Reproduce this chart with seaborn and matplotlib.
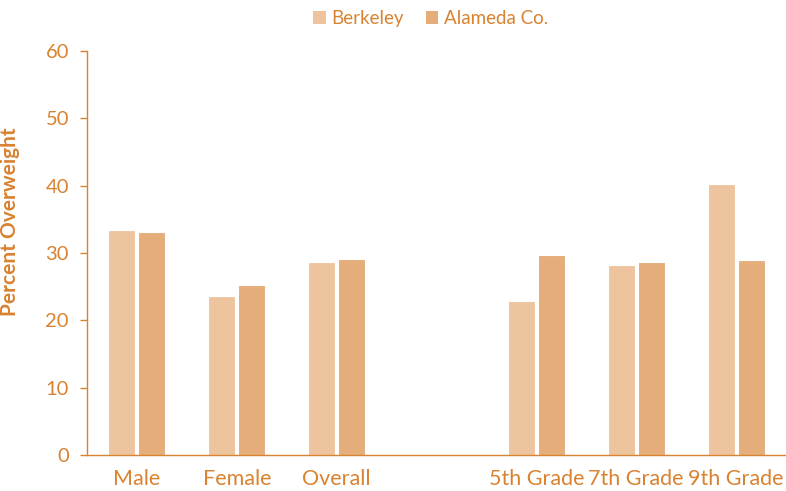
import matplotlib
matplotlib.use("Agg")
import matplotlib.pyplot as plt
import seaborn as sns
import pandas as pd
from matplotlib.patches import Patch

categories = ["Male", "Female", "Overall", "5th Grade", "7th Grade", "9th Grade"]
order = ["Male", "Female", "Overall", " ", "5th Grade", "7th Grade", "9th Grade"]
berkeley = [33.4, 23.6, 28.7, 22.9, 28.2, 40.2]
alameda = [33.1, 25.2, 29.1, 29.7, 28.6, 28.9]
series = ["Berkeley", "Alameda Co."]
yticks = [0, 10, 20, 30, 40, 50, 60]

txt = "#D98230"
colors = {"Berkeley": "#EEC49E", "Alameda Co.": "#E5AD7A"}

df = pd.DataFrame({
    "cat": categories * 2,
    "val": berkeley + alameda,
    "series": [series[0]] * len(categories) + [series[1]] * len(categories),
})

sns.set_theme(style="white")
plt.rcParams["font.family"] = ["Lato", "DejaVu Sans"]

fig = plt.figure(figsize=(7.86, 4.91), dpi=100)
ax = fig.add_axes([87 / 786, 36 / 491, 1 - 87 / 786, (455 - 51) / 491])

sns.barplot(data=df, x="cat", y="val", hue="series", order=order,
            hue_order=series, palette=colors, saturation=1, width=0.6, gap=0.1,
            edgecolor="white", linewidth=0.8, ax=ax, legend=False)

ax.set_xlim(-0.5, 6.5)
ax.set_ylim(0, 60)
ax.set_yticks(yticks)
ax.set_xlabel("")
ax.set_ylabel("Percent Overweight", color=txt, fontsize=15, fontweight="bold")
ax.yaxis.set_label_coords(-0.096, 0.577)
for s in ["top", "right"]:
    ax.spines[s].set_visible(False)
for s in ["left", "bottom"]:
    ax.spines[s].set_color(txt)
    ax.spines[s].set_linewidth(1.0)
ax.tick_params(axis="y", colors=txt, labelsize=14.5, length=5, width=1, direction="out", left=True, pad=8)
ax.tick_params(axis="x", colors=txt, labelsize=15.5, length=0, pad=10)

handles = [Patch(facecolor=colors[s], edgecolor="none", label=s) for s in series]
leg = fig.legend(handles=handles, loc="center", bbox_to_anchor=(0.548, 0.962), ncol=2,
                 frameon=False, fontsize=13.5, handlelength=0.65, handleheight=0.65,
                 handletextpad=0.3, columnspacing=1.2)
for t in leg.get_texts():
    t.set_color(txt)

fig.savefig("out.png", dpi=100)
